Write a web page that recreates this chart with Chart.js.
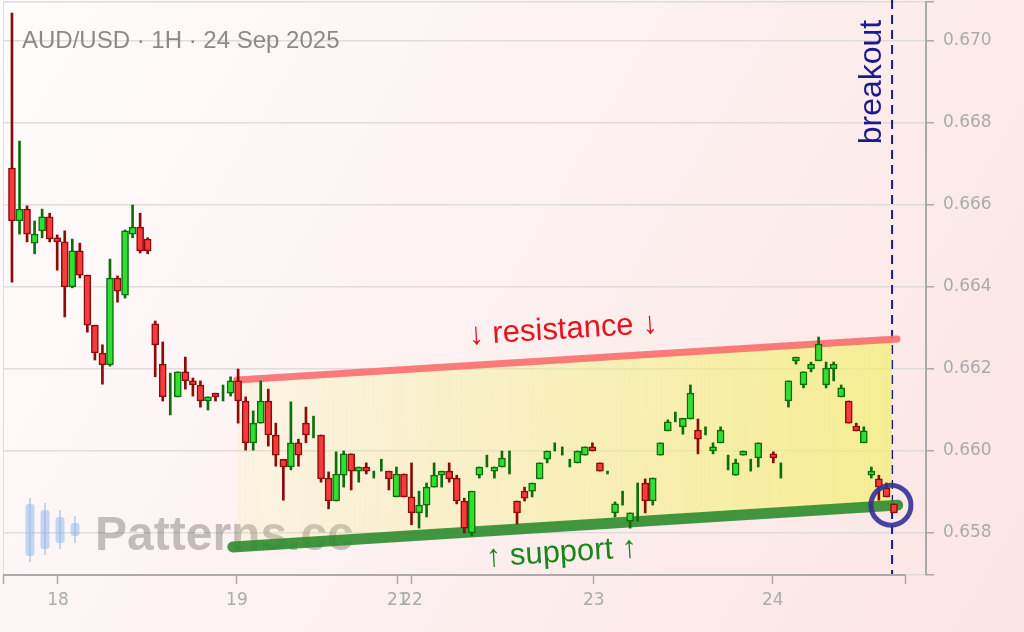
<!DOCTYPE html>
<html>
<head>
<meta charset="utf-8">
<script src="https://cdn.jsdelivr.net/npm/chart.js@4.4.1/dist/chart.umd.min.js"></script>
<style>
  html, body { margin: 0; padding: 0; }
  body {
    width: 1024px; height: 632px; overflow: hidden;
    background: linear-gradient(120deg, #fefcfc 0%, #fdf1f1 45%, #fce4e4 100%);
  }
  #wrap { position: relative; width: 1024px; height: 632px; }
</style>
</head>
<body>
<div id="wrap"><canvas id="chart"></canvas></div>
<script>
/* AUD/USD 1H candles, index = hourly bar (weekend removed), slot 100 empty */
const opens = [
  0.66690, 0.66561, 0.66590, 0.66507, 0.66537, 0.66571, 0.66520, 0.66510, 0.66400, 0.66488,
  0.66429, 0.66307, 0.66239, 0.66210, 0.66422, 0.66380, 0.66529, 0.66546, 0.66517, 0.66310,
  0.66212, 0.66175, 0.66132, 0.66193, 0.66171, 0.66161, 0.66122, 0.66141, 0.66150, 0.66141,
  0.66171, 0.66122, 0.66020, 0.66068, 0.66122, 0.66039, 0.65980, 0.65961, 0.66020, 0.66068,
  0.66060, 0.66039, 0.65934, 0.65878, 0.65941, 0.65993, 0.65951, 0.65961, 0.65940, 0.65965,
  0.65951, 0.65888, 0.65944, 0.65888, 0.65849, 0.65868, 0.65912, 0.65941, 0.65951, 0.65934,
  0.65878, 0.65800, 0.65941, 0.65975, 0.65951, 0.65961, 0.65970, 0.65878, 0.65902, 0.65902,
  0.65932, 0.65980, 0.66010, 0.66000, 0.65970, 0.65971, 0.65990, 0.66010, 0.65971, 0.65947,
  0.65849, 0.65885, 0.65829, 0.65875, 0.65922, 0.65878, 0.65990, 0.66049, 0.66085, 0.66059,
  0.66078, 0.66051, 0.66050, 0.66000, 0.66020, 0.65975, 0.65941, 0.65990, 0.65965, 0.65983,
  null,    0.65993, 0.65955, 0.66122, 0.66220, 0.66161, 0.66200, 0.66220, 0.66161, 0.66200,
  0.66132, 0.66122, 0.66061, 0.66020, 0.65941, 0.65932, 0.65910, 0.65871
];
const highs = [
  0.67068, 0.66756, 0.66598, 0.66561, 0.66590, 0.66580, 0.66527, 0.66537, 0.66517, 0.66507,
  0.66429, 0.66307, 0.66259, 0.66468, 0.66427, 0.66539, 0.66600, 0.66580, 0.66520, 0.66317,
  0.66266, 0.66190, 0.66193, 0.66229, 0.66178, 0.66171, 0.66132, 0.66141, 0.66161, 0.66181,
  0.66200, 0.66132, 0.66098, 0.66171, 0.66151, 0.66068, 0.65980, 0.66120, 0.66029, 0.66107,
  0.66085, 0.66039, 0.65949, 0.65998, 0.66000, 0.65993, 0.65961, 0.65971, 0.65951, 0.65980,
  0.65951, 0.65961, 0.65944, 0.65971, 0.65902, 0.65922, 0.65971, 0.65951, 0.65971, 0.65941,
  0.65885, 0.65902, 0.65961, 0.65990, 0.65961, 0.66000, 0.66000, 0.65878, 0.65912, 0.65922,
  0.65971, 0.66000, 0.66020, 0.66010, 0.65980, 0.66000, 0.66010, 0.66020, 0.65971, 0.65951,
  0.65876, 0.65902, 0.65849, 0.65922, 0.65932, 0.65934, 0.66020, 0.66076, 0.66095, 0.66080,
  0.66161, 0.66078, 0.66059, 0.66020, 0.66059, 0.65990, 0.65980, 0.66000, 0.65980, 0.66020,
  null,    0.65998, 0.65971, 0.66171, 0.66229, 0.66193, 0.66217, 0.66278, 0.66217, 0.66217,
  0.66161, 0.66122, 0.66068, 0.66059, 0.65961, 0.65941, 0.65922, 0.65871
];
const lows = [
  0.66412, 0.66529, 0.66510, 0.66481, 0.66520, 0.66510, 0.66441, 0.66327, 0.66398, 0.66422,
  0.66290, 0.66222, 0.66163, 0.66207, 0.66363, 0.66373, 0.66520, 0.66483, 0.66481, 0.66181,
  0.66122, 0.66088, 0.66132, 0.66151, 0.66134, 0.66107, 0.66100, 0.66122, 0.66122, 0.66134,
  0.66068, 0.66002, 0.66002, 0.66068, 0.66012, 0.65963, 0.65880, 0.65954, 0.65963, 0.66020,
  0.66032, 0.65924, 0.65859, 0.65878, 0.65912, 0.65905, 0.65924, 0.65944, 0.65934, 0.65951,
  0.65905, 0.65888, 0.65888, 0.65820, 0.65812, 0.65839, 0.65912, 0.65912, 0.65924, 0.65871,
  0.65800, 0.65793, 0.65934, 0.65961, 0.65934, 0.65961, 0.65944, 0.65822, 0.65878, 0.65888,
  0.65932, 0.65971, 0.66000, 0.65990, 0.65961, 0.65971, 0.65990, 0.66000, 0.65951, 0.65944,
  0.65839, 0.65868, 0.65812, 0.65829, 0.65849, 0.65868, 0.65990, 0.66049, 0.66071, 0.66041,
  0.66078, 0.65993, 0.66039, 0.65993, 0.66020, 0.65954, 0.65941, 0.65990, 0.65951, 0.65961,
  null,    0.65971, 0.65934, 0.66107, 0.66212, 0.66154, 0.66193, 0.66220, 0.66154, 0.66171,
  0.66132, 0.66068, 0.66049, 0.66020, 0.65934, 0.65880, 0.65888, 0.65849
];
const closes = [
  0.66561, 0.66590, 0.66529, 0.66529, 0.66571, 0.66517, 0.66510, 0.66400, 0.66488, 0.66429,
  0.66307, 0.66239, 0.66210, 0.66422, 0.66390, 0.66537, 0.66546, 0.66488, 0.66488, 0.66259,
  0.66132, 0.66175, 0.66193, 0.66171, 0.66161, 0.66122, 0.66132, 0.66132, 0.66150, 0.66171,
  0.66122, 0.66020, 0.66068, 0.66122, 0.66039, 0.65990, 0.65961, 0.66020, 0.65990, 0.66039,
  0.66060, 0.65932, 0.65878, 0.65944, 0.65993, 0.65951, 0.65961, 0.65951, 0.65940, 0.65965,
  0.65932, 0.65944, 0.65888, 0.65849, 0.65868, 0.65912, 0.65941, 0.65951, 0.65932, 0.65878,
  0.65812, 0.65902, 0.65961, 0.65975, 0.65961, 0.65983, 0.65970, 0.65849, 0.65885, 0.65922,
  0.65971, 0.66000, 0.66010, 0.66000, 0.65970, 0.66000, 0.66010, 0.66000, 0.65951, 0.65947,
  0.65871, 0.65885, 0.65849, 0.65875, 0.65878, 0.65934, 0.66020, 0.66071, 0.66085, 0.66080,
  0.66141, 0.66029, 0.66050, 0.66010, 0.66051, 0.65975, 0.65971, 0.66000, 0.65965, 0.66020,
  null,    0.65983, 0.65955, 0.66171, 0.66229, 0.66193, 0.66212, 0.66261, 0.66202, 0.66212,
  0.66154, 0.66068, 0.66049, 0.66049, 0.65951, 0.65912, 0.65888, 0.65849
];

/* axes */
const yTicks = [0.658, 0.660, 0.662, 0.664, 0.666, 0.668, 0.670];
const dayTicks = [6.1, 29.84, 51.19, 53.05, 77.19, 100.93];
const dayLabels = ['18', '19', '21', '22', '23', '24'];

/* channel: resistance / support lines and the shaded zone up to the breakout */
const resX = [29.84, 117.4];
const resY = [0.66173, 0.66273];
const supX = [29.3, 117.5];
const supY = [0.65766, 0.65868];
const chanX = [29.84, 116.75];
const chanTop = [0.66173, 0.66272];
const chanBot = [0.65767, 0.65867];
const breakoutX = 116.75;
const circleAt = { x: 116.6, y: 0.65868 };
const resLabelAt = { x: 73.1, y: 0.66295 };
const supLabelAt = { x: 72.9, y: 0.65751 };

const X_MIN = -1.19, X_END = 118.57, X_MAX = 121.25;
const Y_MIN = 0.656976, Y_MAX = 0.670951;

const FONT = "'Liberation Sans', Arial, sans-serif";
const TICK_FONT = "'DejaVu Sans', sans-serif";

/* ── build candle datasets ── */
const bodyPts = [], wickPts = [], fillCol = [], edgeCol = [];
opens.forEach((o, i) => {
  if (o === null) return;
  const up = closes[i] >= o;
  bodyPts.push({ x: i, y: [o, closes[i]] });
  wickPts.push({ x: i, y: [lows[i], highs[i]] });
  fillCol.push(up ? '#33dd33' : '#f53b3b');
  edgeCol.push(up ? '#0b6e0b' : '#8b0a0a');
});

const line = (xs, ys) => xs.map((x, i) => ({ x, y: ys[i] }));

/* ── decorations drawn around the datasets ── */
const deco = {
  id: 'deco',
  beforeDatasetsDraw(chart) {
    const { ctx, chartArea: a, scales: { x, y } } = chart;
    ctx.save();

    // title
    ctx.fillStyle = '#8a8a8a';
    ctx.font = '24px ' + FONT;
    ctx.textBaseline = 'middle';
    ctx.fillText('AUD/USD · 1H · 24 Sep 2025', 22, 41);

    // watermark logo
    ctx.fillStyle = 'rgba(150,185,235,0.55)';
    ctx.strokeStyle = 'rgba(150,185,235,0.55)';
    ctx.lineWidth = 2;
    [[30, 498, 562, 504, 556], [45, 503, 555, 510, 549], [60, 510, 549, 517, 543], [75, 516, 543, 523, 536]]
      .forEach(([cx, wt, wb, bt, bb]) => {
        ctx.beginPath(); ctx.moveTo(cx, wt); ctx.lineTo(cx, wb); ctx.stroke();
        ctx.beginPath(); ctx.roundRect(cx - 4.5, bt, 9, bb - bt, 3); ctx.fill();
      });
    ctx.fillStyle = 'rgba(120,112,112,0.43)';
    ctx.font = 'bold 48px ' + FONT;
    ctx.textBaseline = 'alphabetic';
    ctx.fillText('Patterns.cc', 95, 550);

    // breakout marker
    const bx = x.getPixelForValue(breakoutX);
    ctx.strokeStyle = '#1a1a8c';
    ctx.lineWidth = 2;
    ctx.setLineDash([9, 6]);
    ctx.beginPath(); ctx.moveTo(bx, 0); ctx.lineTo(bx, a.bottom); ctx.stroke();
    ctx.setLineDash([]);

    ctx.restore();
  },
  afterDatasetsDraw(chart) {
    const { ctx, scales: { x, y } } = chart;
    ctx.save();

    const ang = (xs, ys) => Math.atan2(
      y.getPixelForValue(ys[1]) - y.getPixelForValue(ys[0]),
      x.getPixelForValue(xs[1]) - x.getPixelForValue(xs[0]));

    ctx.textAlign = 'center';
    ctx.textBaseline = 'middle';
    ctx.font = '31px ' + FONT;

    ctx.save();
    ctx.translate(x.getPixelForValue(resLabelAt.x), y.getPixelForValue(resLabelAt.y));
    ctx.rotate(ang(resX, resY));
    ctx.fillStyle = '#e8131a';
    ctx.fillText('↓ resistance ↓', 0, 0);
    ctx.restore();

    ctx.save();
    ctx.translate(x.getPixelForValue(supLabelAt.x), y.getPixelForValue(supLabelAt.y));
    ctx.rotate(ang(supX, supY));
    ctx.fillStyle = '#1a861a';
    ctx.fillText('↑ support ↑', 0, 0);
    ctx.restore();

    // breakout label
    ctx.save();
    ctx.translate(x.getPixelForValue(breakoutX) - 20, 82);
    ctx.rotate(-Math.PI / 2);
    ctx.fillStyle = '#1a1a8c';
    ctx.font = '32px ' + FONT;
    ctx.fillText('breakout', 0, 0);
    ctx.restore();

    // circle on the break
    ctx.strokeStyle = 'rgba(50,50,150,0.9)';
    ctx.lineWidth = 5;
    ctx.beginPath();
    ctx.arc(x.getPixelForValue(circleAt.x), y.getPixelForValue(circleAt.y), 20, 0, Math.PI * 2);
    ctx.stroke();

    ctx.restore();
  },
  afterDraw(chart) {
    const { ctx, chartArea: a, scales: { x } } = chart;
    ctx.save();
    ctx.strokeStyle = '#aaaaaa';
    ctx.lineWidth = 2;
    ctx.beginPath();
    ctx.moveTo(x.getPixelForValue(X_MIN), a.bottom);
    ctx.lineTo(x.getPixelForValue(X_END), a.bottom);
    ctx.stroke();
    ctx.restore();
  }
};

new Chart(document.getElementById('chart'), {
  type: 'bar',
  data: {
    datasets: [
      {
        label: 'body', data: bodyPts, grouped: false, barThickness: 7,
        backgroundColor: fillCol, borderColor: edgeCol, borderWidth: 1.5, borderSkipped: false
      },
      {
        label: 'wick', data: wickPts, grouped: false, barThickness: 2,
        backgroundColor: edgeCol, borderWidth: 0
      },
      {
        type: 'line', label: 'resistance', data: line(resX, resY),
        borderColor: 'rgba(250,110,110,0.9)', borderWidth: 7, borderCapStyle: 'round',
        pointRadius: 0, fill: false
      },
      {
        type: 'line', label: 'support', data: line(supX, supY),
        borderColor: 'rgba(45,140,45,0.9)', borderWidth: 11, borderCapStyle: 'round',
        pointRadius: 0, fill: false
      },
      {
        type: 'line', label: 'chanTop', data: line(chanX, chanTop),
        borderWidth: 0, pointRadius: 0, fill: false
      },
      {
        type: 'line', label: 'chanBot', data: line(chanX, chanBot),
        borderWidth: 0, pointRadius: 0, fill: '-1',
        backgroundColor: (c) => {
          const ch = c.chart;
          if (!ch.chartArea) return 'rgba(242,240,120,0.4)';
          const xs = ch.scales.x;
          const g = ch.ctx.createLinearGradient(xs.getPixelForValue(chanX[0]), 0, xs.getPixelForValue(chanX[1]), 0);
          g.addColorStop(0, 'rgba(242,240,120,0.12)');
          g.addColorStop(1, 'rgba(242,240,110,0.7)');
          return g;
        }
      }
    ]
  },
  options: {
    responsive: true,
    maintainAspectRatio: false,
    animation: false,
    events: [],
    layout: { padding: { left: 3, top: 2, right: 0, bottom: 0 } },
    plugins: { legend: { display: false }, tooltip: { enabled: false } },
    scales: {
      x: {
        type: 'linear', min: X_MIN, max: X_MAX, offset: false,
        afterBuildTicks: s => { s.ticks = [X_MIN, ...dayTicks, X_END].map(v => ({ value: v })); },
        afterFit: s => { s.height = 57; s.paddingLeft = 0; s.paddingRight = 0; },
        grid: {
          offset: false, tickLength: 9, tickColor: '#aaaaaa', tickWidth: 1.5,
          color: c => c.index === 0 ? '#dedcdc' : 'rgba(0,0,0,0)'
        },
        border: { display: false },
        ticks: {
          autoSkip: false, maxRotation: 0, padding: 6, color: '#aaaaaa',
          font: { family: TICK_FONT, size: 17 },
          callback: (v, i) => (i >= 1 && i <= dayLabels.length) ? dayLabels[i - 1] : ''
        }
      },
      y: {
        position: 'right', min: Y_MIN, max: Y_MAX,
        afterBuildTicks: s => { s.ticks = [Y_MIN, ...yTicks, Y_MAX].map(v => ({ value: v })); },
        afterFit: s => { s.width = 98; s.paddingTop = 0; s.paddingBottom = 0; },
        grid: { color: '#dedcdc', lineWidth: 1.5, tickLength: 8, tickColor: '#aaaaaa', tickWidth: 1.5 },
        border: { color: '#aaaaaa', width: 2 },
        ticks: {
          padding: 9, color: '#aaaaaa',
          font: { family: TICK_FONT, size: 17 },
          callback: v => yTicks.includes(v) ? v.toFixed(3) : ''
        }
      }
    }
  },
  plugins: [deco]
});
</script>
</body>
</html>
